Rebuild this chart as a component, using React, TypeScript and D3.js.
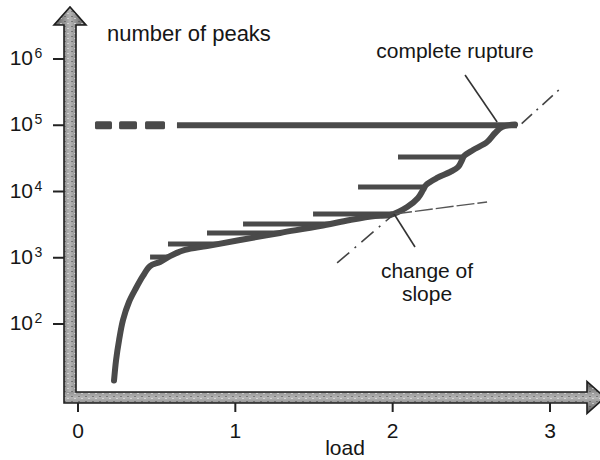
import React from "react";
import * as d3 from "d3";

// ---- data ----
// main curve: load vs number of peaks
const curveLoad = [0.229, 0.242, 0.261, 0.286, 0.324, 0.369, 0.413, 0.458, 0.521, 0.585, 0.68, 0.82, 1.03, 1.284, 1.538, 1.729, 1.888, 1.984, 2.092, 2.161, 2.193, 2.212, 2.282, 2.365, 2.416, 2.441, 2.454, 2.511, 2.6, 2.651, 2.695, 2.778];
const curvePeaks = [14, 28.6, 57, 115, 215, 349, 531, 750, 863, 1060, 1310, 1500, 1850, 2370, 3010, 3710, 4270, 4416, 5830, 7980, 10540, 12540, 16000, 19700, 23400, 29900, 34400, 42300, 55800, 76400, 94200, 102600];

// horizontal spikes (number of peaks level, left end load)
const spikePeaks = [1025, 1614, 2366, 3228, 4571, 11700, 33200];
const spikeLeftLoad = [0.458, 0.572, 0.82, 1.049, 1.494, 1.78, 2.034];

// rupture level line
const ruptureLevel = 1e5;
const ruptureDashStart = [0.108, 0.261, 0.426];
const ruptureDashEnd = [0.216, 0.375, 0.553];
const ruptureSolidStart = 0.629;
const ruptureTipLoad = 2.79;

// annotation geometry (load, peaks)
const ruptureLeaderLoad = [2.46, 2.664];
const ruptureLeaderPeaks = [573000, 112000];
const ruptureTangentLoad = [2.82, 3.077];
const ruptureTangentPeaks = [106000, 378000];
const slopePointLoad = 2.009;
const slopePointPeaks = 4571;
const steepTangentStart = [1.647, 834];
const shallowTangentEnd = [2.6, 6950];
const slopeLeaderEnd = [2.142, 1452];

const xTicks = [0, 1, 2, 3];
const yTickExponents = [2, 3, 4, 5, 6];

const FONT = "'Liberation Sans', Arial, Helvetica, sans-serif";

export default function App() {
  const x = d3.scaleLinear().domain([0, 3]).range([78, 550]);
  const y = d3.scaleLog().domain([1e2, 1e6]).range([324, 59]);

  const pts: [number, number][] = curveLoad.map((l, i) => [l, curvePeaks[i]]);
  const line = d3
    .line<[number, number]>()
    .x((d) => x(d[0]))
    .y((d) => y(d[1]))
    .curve(d3.curveCatmullRom.alpha(0.5));
  const straight = d3
    .line<[number, number]>()
    .x((d) => x(d[0]))
    .y((d) => y(d[1]));

  const loadAt = (n: number) => {
    for (let i = 0; i < pts.length - 1; i++) {
      const a = pts[i], b = pts[i + 1];
      if (n >= a[1] && n <= b[1]) {
        const t = (Math.log(n) - Math.log(a[1])) / (Math.log(b[1]) - Math.log(a[1]));
        return a[0] + t * (b[0] - a[0]);
      }
    }
    return pts[pts.length - 1][0];
  };

  const curveColor = "#4a4a4a";
  const textColor = "#161616";

  // axis geometry
  const axL = 64, axR = 76; // y axis band
  const axT = 392, axB = 403; // x axis band
  const yHeadBase = 25, yHeadTip = 7;
  const xHeadBase = 587, xHeadTip = 605;
  const cx = (axL + axR) / 2;
  const cy = (axT + axB) / 2;

  const axisPath = [
    `M${axL},${axB}`,
    `L${axL},${yHeadBase}`,
    `L${cx - 16},${yHeadBase}`,
    `L${cx},${yHeadTip}`,
    `L${cx + 16},${yHeadBase}`,
    `L${axR},${yHeadBase}`,
    `L${axR},${axT}`,
    `L${xHeadBase},${axT}`,
    `L${xHeadBase},${cy - 16}`,
    `L${xHeadTip},${cy}`,
    `L${xHeadBase},${cy + 16}`,
    `L${xHeadBase},${axB}`,
    "Z",
  ].join(" ");

  return (
    <svg
      width={600}
      height={460}
      style={{ position: "absolute", left: 0, top: 0, background: "#fff" }}
      fontFamily={FONT}
    >
      <defs>
        <linearGradient id="gv" x1="0" x2="1" y1="0" y2="0">
          <stop offset="0" stopColor="#575757" />
          <stop offset="0.5" stopColor="#b4b4b4" />
          <stop offset="1" stopColor="#575757" />
        </linearGradient>
        <linearGradient id="gh" x1="0" x2="0" y1="0" y2="1">
          <stop offset="0" stopColor="#575757" />
          <stop offset="0.5" stopColor="#b4b4b4" />
          <stop offset="1" stopColor="#575757" />
        </linearGradient>
        <pattern id="speck" width="7" height="5" patternUnits="userSpaceOnUse">
          <rect x="1" y="1" width="2" height="1" fill="#444" opacity="0.5" />
          <rect x="4" y="3" width="2" height="1" fill="#eee" opacity="0.6" />
        </pattern>
      </defs>

      {/* axes */}
      <path d={`M${axL},${axB} L${axL},${yHeadBase} L${cx - 16},${yHeadBase} L${cx},${yHeadTip} L${cx + 16},${yHeadBase} L${axR},${yHeadBase} L${axR},${axB} Z`} fill="url(#gv)" />
      <path d={`M${axL},${axT} L${xHeadBase},${axT} L${xHeadBase},${cy - 16} L${xHeadTip},${cy} L${xHeadBase},${cy + 16} L${xHeadBase},${axB} L${axL},${axB} Z`} fill="url(#gh)" />
      <path d={axisPath} fill="url(#speck)" />
      <path d={axisPath} fill="none" stroke="#1e1e1e" strokeWidth={1.6} strokeLinejoin="miter" />

      {/* y ticks */}
      {yTickExponents.map((e) => {
        const ty = y(Math.pow(10, e));
        return (
          <g key={e}>
            <line x1={53} x2={axL} y1={ty} y2={ty} stroke="#222" strokeWidth={2} />
            <text x={33} y={ty + 6} fontSize={21} textAnchor="end" fill={textColor}>10</text>
            <text x={34.5} y={ty - 1} fontSize={14} fill={textColor}>{e}</text>
          </g>
        );
      })}

      {/* x ticks */}
      {xTicks.map((t) => (
        <g key={t}>
          <line x1={x(t)} x2={x(t)} y1={axB} y2={axB + 9} stroke="#222" strokeWidth={2} />
          <text x={x(t)} y={438} fontSize={21} textAnchor="middle" fill={textColor}>{t}</text>
        </g>
      ))}

      <text x={345} y={455} fontSize={21} textAnchor="middle" fill={textColor}>load</text>
      <text x={107} y={41} fontSize={22} fill={textColor}>number of peaks</text>

      {/* rupture level: dashes + solid line */}
      {ruptureDashStart.map((s, i) => (
        <rect
          key={i}
          x={x(s)}
          y={y(ruptureLevel) - 4}
          width={x(ruptureDashEnd[i]) - x(s)}
          height={8}
          rx={1.5}
          fill={curveColor}
        />
      ))}
      <path
        d={straight([[ruptureSolidStart, ruptureLevel], [ruptureTipLoad, ruptureLevel]]) || ""}
        stroke={curveColor}
        strokeWidth={6}
        fill="none"
      />

      {/* spikes */}
      {spikePeaks.map((n, i) => (
        <path
          key={i}
          d={straight([[spikeLeftLoad[i], n], [loadAt(n), n]]) || ""}
          stroke={curveColor}
          strokeWidth={5}
          fill="none"
          strokeLinecap="butt"
        />
      ))}

      {/* main curve */}
      <path d={line(pts) || ""} stroke={curveColor} strokeWidth={6} fill="none" strokeLinecap="round" strokeLinejoin="round" />

      {/* complete rupture annotation */}
      <path
        d={straight(ruptureLeaderLoad.map((l, i) => [l, ruptureLeaderPeaks[i]] as [number, number])) || ""}
        stroke="#333"
        strokeWidth={1.6}
        fill="none"
      />
      <path
        d={straight(ruptureTangentLoad.map((l, i) => [l, ruptureTangentPeaks[i]] as [number, number])) || ""}
        stroke="#444"
        strokeWidth={1.6}
        strokeDasharray="14 6 2 6"
        fill="none"
      />
      <text x={455} y={58} fontSize={21} textAnchor="middle" fill={textColor}>complete rupture</text>

      {/* change of slope annotation */}
      <path
        d={straight([[steepTangentStart[0], steepTangentStart[1]], [slopePointLoad, slopePointPeaks]]) || ""}
        stroke="#444"
        strokeWidth={1.6}
        strokeDasharray="16 7 2 7"
        fill="none"
      />
      <path
        d={straight([[slopePointLoad, slopePointPeaks], [shallowTangentEnd[0], shallowTangentEnd[1]]]) || ""}
        stroke="#555"
        strokeWidth={1.4}
        strokeDasharray="18 3"
        fill="none"
      />
      <path
        d={straight([[slopePointLoad, slopePointPeaks], [slopeLeaderEnd[0], slopeLeaderEnd[1]]]) || ""}
        stroke="#333"
        strokeWidth={1.6}
        fill="none"
      />
      <text x={427} y={278} fontSize={21} textAnchor="middle" fill={textColor}>change of</text>
      <text x={427} y={301} fontSize={21} textAnchor="middle" fill={textColor}>slope</text>
    </svg>
  );
}
